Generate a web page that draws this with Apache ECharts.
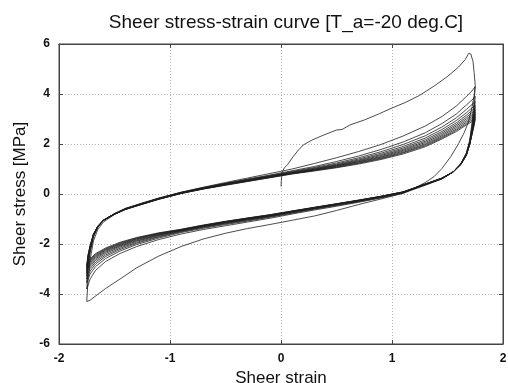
<!DOCTYPE html>
<html>
<head>
<meta charset="utf-8">
<script src="https://cdn.jsdelivr.net/npm/echarts@6/dist/echarts.min.js"></script>
<style>
  html, body { margin: 0; padding: 0; background: #fff; }
  #chart { width: 508px; height: 383px; }
</style>
</head>
<body>
<div id="chart"></div>
<script>
// Axis ticks
const xTicks = [-2, -1, 0, 1, 2];
const yTicks = [-6, -4, -2, 0, 2, 4, 6];

// Virgin loading from rest
const virginStrain = [0, 0.003, 0.01, 0.03, 0.06, 0.1, 0.15, 0.2, 0.28, 0.38, 0.5, 0.55, 0.62, 0.75, 0.88, 1.0, 1.12, 1.25, 1.38, 1.5, 1.6, 1.66, 1.69, 1.71, 1.73, 1.74, 1.75];
const virginStress = [0.3, 0.55, 0.85, 1.05, 1.18, 1.44, 1.72, 1.96, 2.16, 2.35, 2.56, 2.58, 2.76, 2.96, 3.2, 3.44, 3.66, 3.95, 4.32, 4.7, 5.08, 5.38, 5.62, 5.6, 5.3, 4.85, 4.35];

// First unloading branch
const firstUnloadStrain = [1.75, 1.74, 1.72, 1.69, 1.65, 1.6, 1.53, 1.45, 1.38, 1.3, 1.2, 1.1, 0.9, 0.7, 0.5, 0.3, 0.1, -0.1, -0.3, -0.5, -0.7, -0.9, -1.1, -1.3, -1.45, -1.58, -1.67, -1.72, -1.75];
const firstUnloadStress = [4.35, 3.95, 3.45, 2.9, 2.45, 2.02, 1.5, 1.02, 0.7, 0.46, 0.23, 0.03, -0.2, -0.42, -0.66, -0.88, -1.05, -1.22, -1.38, -1.57, -1.8, -2.1, -2.48, -2.95, -3.4, -3.78, -4.08, -4.25, -4.3];

// Loading branches (strain increasing), cycles 2..12
const loadStrain = [-1.75, -1.74, -1.72, -1.69, -1.65, -1.6, -1.5, -1.4, -1.25, -1.1, -0.9, -0.7, -0.5, -0.3, -0.1, 0.1, 0.3, 0.5, 0.7, 0.9, 1.1, 1.3, 1.45, 1.58, 1.67, 1.72, 1.75];
const loadStress = [
  [-4.3, -3.55, -2.65, -1.88, -1.42, -1.12, -0.82, -0.6, -0.38, -0.17, 0.07, 0.27, 0.46, 0.64, 0.82, 1.0, 1.22, 1.45, 1.7, 1.98, 2.32, 2.72, 3.1, 3.52, 3.9, 4.12, 4.3],
  [-3.8, -3.05, -2.35, -1.72, -1.33, -1.06, -0.78, -0.57, -0.36, -0.16, 0.07, 0.26, 0.43, 0.6, 0.76, 0.93, 1.1, 1.3, 1.52, 1.78, 2.08, 2.45, 2.82, 3.2, 3.56, 3.76, 3.9],
  [-3.55, -2.9, -2.28, -1.7, -1.32, -1.05, -0.79, -0.58, -0.37, -0.17, 0.06, 0.25, 0.42, 0.58, 0.74, 0.9, 1.06, 1.24, 1.45, 1.69, 1.98, 2.33, 2.68, 3.05, 3.38, 3.58, 3.7],
  [-3.4, -2.8, -2.24, -1.68, -1.31, -1.05, -0.79, -0.59, -0.38, -0.18, 0.05, 0.24, 0.41, 0.57, 0.72, 0.88, 1.03, 1.2, 1.4, 1.63, 1.9, 2.24, 2.58, 2.94, 3.25, 3.44, 3.55],
  [-3.28, -2.72, -2.2, -1.66, -1.3, -1.04, -0.79, -0.59, -0.38, -0.18, 0.05, 0.23, 0.4, 0.56, 0.71, 0.86, 1.01, 1.17, 1.36, 1.58, 1.84, 2.17, 2.5, 2.85, 3.15, 3.34, 3.45],
  [-3.18, -2.66, -2.17, -1.65, -1.3, -1.05, -0.8, -0.6, -0.39, -0.19, 0.04, 0.22, 0.39, 0.55, 0.7, 0.85, 0.99, 1.15, 1.33, 1.54, 1.79, 2.11, 2.44, 2.78, 3.07, 3.25, 3.35],
  [-3.1, -2.6, -2.14, -1.64, -1.29, -1.05, -0.8, -0.6, -0.39, -0.19, 0.04, 0.22, 0.38, 0.54, 0.69, 0.84, 0.98, 1.13, 1.3, 1.5, 1.75, 2.06, 2.38, 2.72, 3.0, 3.17, 3.27],
  [-3.03, -2.56, -2.12, -1.63, -1.29, -1.05, -0.8, -0.61, -0.4, -0.2, 0.03, 0.21, 0.37, 0.53, 0.68, 0.83, 0.96, 1.11, 1.28, 1.47, 1.71, 2.01, 2.33, 2.66, 2.93, 3.1, 3.2],
  [-2.97, -2.52, -2.1, -1.62, -1.29, -1.05, -0.81, -0.61, -0.4, -0.2, 0.03, 0.21, 0.37, 0.52, 0.67, 0.82, 0.95, 1.09, 1.25, 1.44, 1.67, 1.97, 2.28, 2.6, 2.87, 3.03, 3.12],
  [-2.92, -2.49, -2.08, -1.61, -1.28, -1.05, -0.81, -0.61, -0.41, -0.21, 0.02, 0.2, 0.36, 0.51, 0.66, 0.81, 0.94, 1.07, 1.23, 1.41, 1.64, 1.93, 2.24, 2.55, 2.81, 2.96, 3.05],
  [-2.87, -2.46, -2.06, -1.6, -1.28, -1.05, -0.81, -0.62, -0.41, -0.21, 0.02, 0.2, 0.35, 0.5, 0.65, 0.8, 0.92, 1.05, 1.2, 1.38, 1.6, 1.89, 2.2, 2.5, 2.76, 2.9, 2.98]
];

// Unloading branches (strain decreasing), cycles 2..12
const unloadStrain = [1.75, 1.74, 1.72, 1.7, 1.67, 1.62, 1.55, 1.45, 1.3, 1.1, 0.9, 0.7, 0.5, 0.3, 0.1, -0.1, -0.3, -0.5, -0.7, -0.9, -1.1, -1.3, -1.45, -1.58, -1.67, -1.72, -1.75];
const unloadStress = [
  [4.3, 3.75, 2.8, 2.15, 1.65, 1.22, 0.88, 0.6, 0.35, 0.03, -0.16, -0.33, -0.49, -0.64, -0.8, -0.97, -1.12, -1.27, -1.42, -1.6, -1.82, -2.1, -2.38, -2.7, -3.05, -3.4, -3.8],
  [3.9, 3.45, 2.7, 2.1, 1.62, 1.21, 0.88, 0.61, 0.37, 0.05, -0.14, -0.31, -0.46, -0.61, -0.77, -0.93, -1.08, -1.22, -1.37, -1.54, -1.76, -2.02, -2.28, -2.58, -2.9, -3.2, -3.55],
  [3.7, 3.28, 2.62, 2.07, 1.6, 1.2, 0.88, 0.62, 0.38, 0.06, -0.13, -0.29, -0.44, -0.59, -0.75, -0.91, -1.05, -1.19, -1.34, -1.51, -1.72, -1.97, -2.22, -2.5, -2.8, -3.08, -3.4],
  [3.55, 3.15, 2.56, 2.05, 1.59, 1.2, 0.88, 0.62, 0.38, 0.06, -0.12, -0.28, -0.43, -0.58, -0.73, -0.89, -1.03, -1.17, -1.32, -1.49, -1.69, -1.93, -2.17, -2.44, -2.72, -2.98, -3.28],
  [3.45, 3.06, 2.52, 2.03, 1.58, 1.19, 0.88, 0.62, 0.38, 0.07, -0.12, -0.27, -0.42, -0.57, -0.72, -0.88, -1.02, -1.15, -1.3, -1.47, -1.66, -1.89, -2.12, -2.38, -2.65, -2.9, -3.18],
  [3.35, 2.99, 2.48, 2.02, 1.57, 1.19, 0.88, 0.63, 0.39, 0.07, -0.11, -0.27, -0.41, -0.56, -0.71, -0.87, -1.0, -1.14, -1.29, -1.46, -1.64, -1.86, -2.08, -2.33, -2.59, -2.83, -3.1],
  [3.27, 2.93, 2.45, 2.01, 1.57, 1.19, 0.88, 0.63, 0.39, 0.07, -0.11, -0.26, -0.41, -0.55, -0.7, -0.86, -0.99, -1.13, -1.28, -1.45, -1.62, -1.83, -2.05, -2.29, -2.54, -2.78, -3.03],
  [3.2, 2.88, 2.42, 2.0, 1.56, 1.18, 0.88, 0.63, 0.39, 0.08, -0.1, -0.26, -0.4, -0.55, -0.7, -0.85, -0.98, -1.12, -1.27, -1.44, -1.6, -1.8, -2.02, -2.25, -2.5, -2.73, -2.97],
  [3.12, 2.83, 2.4, 1.99, 1.56, 1.18, 0.88, 0.63, 0.4, 0.08, -0.1, -0.25, -0.4, -0.54, -0.69, -0.84, -0.97, -1.11, -1.26, -1.43, -1.58, -1.78, -1.99, -2.22, -2.46, -2.68, -2.92],
  [3.05, 2.78, 2.38, 1.98, 1.55, 1.18, 0.88, 0.64, 0.4, 0.08, -0.09, -0.25, -0.39, -0.54, -0.68, -0.83, -0.96, -1.1, -1.25, -1.42, -1.57, -1.76, -1.96, -2.19, -2.42, -2.63, -2.87],
  [2.98, 2.74, 2.36, 1.97, 1.55, 1.18, 0.88, 0.64, 0.4, 0.09, -0.09, -0.24, -0.39, -0.53, -0.68, -0.83, -0.96, -1.09, -1.24, -1.41, -1.55, -1.74, -1.93, -2.16, -2.38, -2.59, -2.82]
];

// Assemble the test record in time order as one continuous trace
const zip = (xs, ys) => xs.map((x, i) => [x, ys[i]]);
let trace = zip(virginStrain, virginStress).concat(zip(firstUnloadStrain, firstUnloadStress));
for (let c = 0; c < loadStress.length; c++) {
  trace = trace.concat(zip(loadStrain, loadStress[c]));
  trace = trace.concat(zip(unloadStrain, unloadStress[c]));
}

const font = '"Liberation Sans", Arial, sans-serif';
const gridLine = { show: true, lineStyle: { color: '#b4b4b4', type: [1, 2], width: 1 } };
const frameAxis = { show: true, onZero: false, lineStyle: { color: '#444', width: 1 } };
const frameTick = { show: true, inside: true, length: 4, lineStyle: { color: '#444' } };

const chart = echarts.init(document.getElementById('chart'), null, { renderer: 'canvas' });
chart.setOption({
  animation: false,
  backgroundColor: '#fff',
  title: {
    text: 'Sheer stress-strain curve [T_a=-20 deg.C]',
    left: 281, top: 8, textAlign: 'center',
    textStyle: { fontFamily: font, fontSize: 19, fontWeight: 'normal', color: '#111' }
  },
  grid: {
    left: 59, right: 5, top: 44, bottom: 39,
    outerBoundsMode: 'none', containLabel: false,
    show: true, borderColor: '#444', borderWidth: 1
  },
  xAxis: [{
    type: 'value', min: xTicks[0], max: xTicks[xTicks.length - 1], interval: 1,
    name: 'Sheer strain', nameLocation: 'middle', nameGap: 23,
    nameTextStyle: { fontFamily: font, fontSize: 17, color: '#111' },
    axisLine: frameAxis, axisTick: frameTick,
    axisLabel: { fontFamily: font, fontSize: 12, color: '#111', margin: 9, fontWeight: 'bold' },
    splitLine: gridLine
  }, {
    type: 'value', position: 'top', min: xTicks[0], max: xTicks[xTicks.length - 1], interval: 1,
    axisLine: frameAxis, axisTick: frameTick,
    axisLabel: { show: false }, splitLine: { show: false }
  }],
  yAxis: [{
    type: 'value', min: yTicks[0], max: yTicks[yTicks.length - 1], interval: 2,
    name: 'Sheer stress [MPa]', nameLocation: 'middle', nameGap: 28,
    nameTextStyle: { fontFamily: font, fontSize: 17, color: '#111' },
    axisLine: frameAxis, axisTick: frameTick,
    axisLabel: { fontFamily: font, fontSize: 12, color: '#111', margin: 9, fontWeight: 'bold' },
    splitLine: gridLine
  }, {
    type: 'value', position: 'right', min: yTicks[0], max: yTicks[yTicks.length - 1], interval: 2,
    axisLine: frameAxis, axisTick: frameTick,
    axisLabel: { show: false }, splitLine: { show: false }
  }],
  series: [{
    type: 'line', data: trace, showSymbol: false, symbol: 'none',
    lineStyle: { color: '#1e1e1e', width: 0.8 }, smooth: false, z: 3
  }]
});
</script>
</body>
</html>
